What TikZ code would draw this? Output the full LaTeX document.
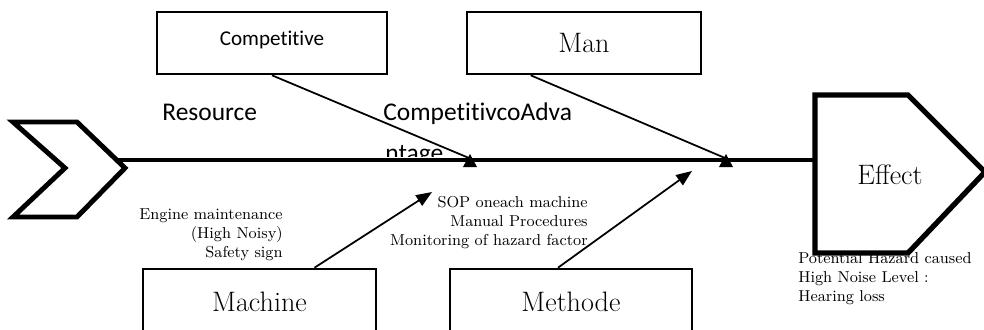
\documentclass[tikz,border=0pt]{standalone}
\usepackage{fontspec}
\newfontfamily\calibrifont[Ligatures=NoCommon]{Carlito}
\usetikzlibrary{arrows.meta,calc}

\begin{document}
\begin{tikzpicture}[x=0.02cm, y=-0.02cm,
    catbox/.style={draw, line width=1.5pt, minimum height=1.24cm, inner sep=0pt},
    bigserif/.style={font=\fontsize{16}{19}\selectfont},
    smallserif/.style={font=\fontsize{9}{10.8}\selectfont, inner sep=0pt},
    sanslabel/.style={font=\calibrifont\fontsize{14.5}{17}\selectfont, inner sep=0pt},
    sanssmall/.style={font=\calibrifont\fontsize{12}{14}\selectfont, inner sep=0pt},
    thickline/.style={line width=2.8pt, line join=miter},
    bone/.style={line width=1pt},
    arrow/.style={-{Triangle[length=9pt, width=7pt]}, line width=1pt}
]
    \path[use as bounding box, clip] (0,0) rectangle (984,329);

    % head and spine
    \draw[thickline] (13,122) -- (77,122) -- (125,168) -- (77,217) -- (13,217) -- (65,168) -- cycle;
    \coordinate (tail) at (118,160);
    \coordinate (head) at (815,160);
    \draw[thickline] (tail) -- (head);

    % effect
    \node[smallserif, anchor=north west, align=left] (hazard) at (798,252) {Potential Hazard caused\\High Noise Level :\\Hearing loss};
    \draw[line width=3pt, line join=miter] (815,95) -- (908,95) -- (985,172) -- (908,253) -- (815,253) -- cycle;
    \node[bigserif] (effect) at (890,175) {Effect};

    % categories
    \node[catbox, minimum width=4.6cm, label={[sanssmall, yshift=2pt]center:Competitive}] (competitive) at (272,43) {};
    \node[catbox, bigserif, minimum width=4.68cm] (man) at (584,43) {Man};
    \node[catbox, bigserif, minimum width=4.66cm, minimum height=1.32cm] (machine) at (259.5,302) {Machine};
    \node[catbox, bigserif, minimum width=4.84cm, minimum height=1.32cm] (methode) at (571,302) {Methode};

    \node[sanslabel, anchor=base west] (resource) at (162,120) {Resource};
    \node[sanslabel, anchor=base west] (advantage) at (383,120) {CompetitivcoAdva};
    \begin{scope}
        \clip (380,130) rectangle (480,156.5);
        \node[sanslabel, anchor=base west] (advantage2) at (385,161) {ntage};
    \end{scope}

    % bones
    \coordinate (tipA) at (469,158);
    \coordinate (tipB) at (725,158);
    \coordinate (tipC) at (432,192);
    \coordinate (tipD) at (692,171);
    \draw[bone] (competitive.south) -- (tipA);
    \draw[bone] ($(man.south west)+(65,0)$) -- (tipB);
    \foreach \t in {tipA,tipB}
        \fill ($(\t)+(1,-4)$) -- ($(\t)+(-6,9)$) -- ($(\t)+(8,9)$) -- cycle;
    \draw[arrow] ($(machine.north)+(55,0)$) -- (tipC);
    \draw[arrow] ($(methode.north)+(-13,0)$) -- (tipD);

    % causes
    \node[smallserif, anchor=north east, align=right] (engine) at (283,208) {Engine maintenance\\(High Noisy)\\Safety sign};
    \node[smallserif, anchor=north east, align=right] (sop) at (588,196) {SOP oneach machine\\Manual Procedures\\Monitoring of hazard factor};
\end{tikzpicture}
\end{document}
